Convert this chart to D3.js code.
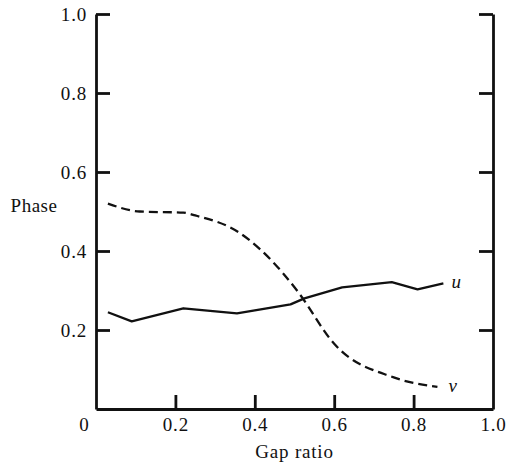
<!DOCTYPE html>
<html>
<head>
<meta charset="utf-8">
<script src="https://cdn.jsdelivr.net/npm/d3@7/dist/d3.min.js"></script>
<style>
  html, body { margin: 0; padding: 0; background: #fff; }
  svg { display: block; }
  text { font-family: "Liberation Serif", "DejaVu Serif", serif; fill: #111; }
</style>
</head>
<body>
<svg id="chart" width="506" height="469"></svg>
<script>
// Gap ratio samples for each curve
const gapU = [0.03, 0.09, 0.22, 0.355, 0.49, 0.525, 0.62, 0.745, 0.81, 0.875];
const phaseU = [0.245, 0.222, 0.255, 0.242, 0.265, 0.28, 0.308, 0.321, 0.303, 0.318];

const gapV = [0.03, 0.11, 0.22, 0.25, 0.36, 0.47, 0.51, 0.60, 0.75, 0.86];
const phaseV = [0.52, 0.50, 0.497, 0.49, 0.447, 0.345, 0.295, 0.165, 0.08, 0.056];

const xTicks = [0, 0.2, 0.4, 0.6, 0.8, 1.0];
const yTicks = [0.2, 0.4, 0.6, 0.8, 1.0];

const svg = d3.select("#chart");
const x = d3.scaleLinear().domain([0, 1]).range([96, 493]);
const y = d3.scaleLinear().domain([0, 1]).range([409, 14]);

const fmt = d => d === 0 ? "0" : d3.format(".1f")(d);

// Left axis: inward ticks, labels outside
const left = svg.append("g")
  .attr("transform", `translate(${x(0)},0)`)
  .call(d3.axisLeft(y).tickValues(yTicks).tickSizeInner(-14).tickSizeOuter(0)
        .tickPadding(9).tickFormat(fmt));

// Right axis: inward ticks, no labels
const right = svg.append("g")
  .attr("transform", `translate(${x(1)},0)`)
  .call(d3.axisRight(y).tickValues(yTicks).tickSizeInner(-14).tickSizeOuter(0)
        .tickFormat(() => ""));

// Bottom axis: inward ticks, labels below
const bottom = svg.append("g")
  .attr("transform", `translate(0,${y(0)})`)
  .call(d3.axisBottom(x).tickValues(xTicks).tickSizeInner(-14).tickSizeOuter(0)
        .tickPadding(9).tickFormat(fmt));

// The origin label sits left of the corner
bottom.selectAll(".tick").filter(d => d === 0).select("text").attr("dx", -12);
bottom.selectAll(".tick").filter(d => d === 0 || d === 1).select("line").remove();

[left, right, bottom].forEach(g => {
  g.select(".domain").attr("stroke", "#111").attr("stroke-width", 2.8);
  g.selectAll(".tick line").attr("stroke", "#111").attr("stroke-width", 2.8);
  g.selectAll(".tick text")
    .attr("font-size", 19)
    .attr("letter-spacing", 0.8)
    .style("font-family", "'Liberation Serif', serif")
    .attr("fill", "#111");
});

// Axis titles
svg.append("text")
  .attr("x", 34).attr("y", 212)
  .attr("text-anchor", "middle")
  .attr("font-size", 19)
  .attr("letter-spacing", 0.5)
  .text("Phase");

svg.append("text")
  .attr("x", x(0.5)).attr("y", 458)
  .attr("text-anchor", "middle")
  .attr("font-size", 19)
  .attr("letter-spacing", 0.8)
  .text("Gap ratio");

// Curves
const uData = gapU.map((g, i) => [g, phaseU[i]]);
const vData = gapV.map((g, i) => [g, phaseV[i]]);

const lineU = d3.line().x(d => x(d[0])).y(d => y(d[1]));
const lineV = d3.line().x(d => x(d[0])).y(d => y(d[1])).curve(d3.curveMonotoneX);

svg.append("path")
  .datum(uData)
  .attr("d", lineU)
  .attr("fill", "none")
  .attr("stroke", "#111")
  .attr("stroke-width", 2.3)
  .attr("stroke-linejoin", "round");

svg.append("path")
  .datum(vData)
  .attr("d", lineV)
  .attr("fill", "none")
  .attr("stroke", "#111")
  .attr("stroke-width", 2.3)
  .attr("stroke-dasharray", "9,5");

// Curve labels
const lastU = uData[uData.length - 1];
const lastV = vData[vData.length - 1];
svg.append("text")
  .attr("x", x(lastU[0]) + 8).attr("y", y(lastU[1]) + 5)
  .attr("font-size", 19).attr("font-style", "italic")
  .text("u");
svg.append("text")
  .attr("x", x(lastV[0]) + 11).attr("y", y(lastV[1]) + 5)
  .attr("font-size", 19).attr("font-style", "italic")
  .text("v");
</script>
</body>
</html>
